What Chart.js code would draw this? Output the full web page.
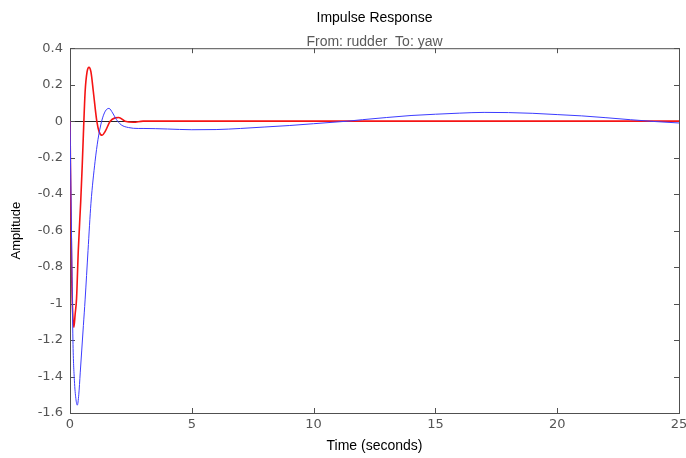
<!DOCTYPE html>
<html>
<head>
<meta charset="utf-8">
<script src="https://cdn.jsdelivr.net/npm/chart.js@4.4.0/dist/chart.umd.min.js"></script>
<style>
  body { margin: 0; background: #fff; }
  #wrap { width: 686px; height: 458px; }
</style>
</head>
<body>
<div id="wrap"><canvas id="impulseChart" width="686" height="458"></canvas></div>
<script>
// red trace: fast response (time in s, amplitude)
const redTime = [0, 0.03, 0.07, 0.11, 0.16, 0.21, 0.27, 0.34, 0.44, 0.5, 0.55, 0.62, 0.7, 0.78, 0.86, 0.96, 1.1, 1.2, 1.32, 1.45, 1.65, 1.85, 2.0, 2.26, 2.6, 3.0, 25];
const redAmp = [0, -0.4, -0.85, -1.05, -1.13, -1.06, -0.97, -0.71, -0.44, -0.25, -0.07, 0.16, 0.27, 0.295, 0.27, 0.16, 0, -0.06, -0.077, -0.055, 0, 0.018, 0.02, 0, -0.006, 0, 0];

// blue trace: slow response
const blueTime = [0, 0.04, 0.08, 0.12, 0.18, 0.24, 0.3, 0.36, 0.42, 0.48, 0.55, 0.62, 0.74, 0.86, 1.03, 1.15, 1.3, 1.45, 1.6, 1.75, 1.9, 2.1, 2.4, 2.8, 3, 4, 5, 6, 7, 8, 9, 10, 11, 11.4, 12, 13, 14, 15, 16, 17, 18, 19, 20, 21, 22, 23, 24, 25];
const blueAmp = [0, -0.4, -0.8, -1.2, -1.42, -1.52, -1.557, -1.5, -1.38, -1.26, -1.12, -0.98, -0.71, -0.45, -0.22, -0.1, 0, 0.055, 0.07, 0.045, 0.01, -0.02, -0.035, -0.04, -0.04, -0.043, -0.047, -0.046, -0.04, -0.032, -0.024, -0.014, -0.004, 0, 0.008, 0.02, 0.031, 0.038, 0.044, 0.048, 0.047, 0.043, 0.036, 0.029, 0.019, 0.008, -0.002, -0.01];

const xTicks = [0, 5, 10, 15, 20, 25];
const yTicks = [0.4, 0.2, 0, -0.2, -0.4, -0.6, -0.8, -1, -1.2, -1.4, -1.6];

const toPoints = (xs, ys) => xs.map((x, i) => ({ x, y: ys[i] }));
const fmt = v => String(Math.round(v * 10) / 10);

// box around the plot with inward tick marks, like the MATLAB axes
const boxPlugin = {
  id: "box",
  beforeDatasetsDraw(chart) {
    const { ctx, chartArea: a, scales } = chart;
    ctx.save();
    ctx.strokeStyle = "#505050";
    ctx.lineWidth = 1;
    ctx.strokeRect(a.left + 0.5, a.top + 0.5, a.right - a.left, a.bottom - a.top);
    ctx.beginPath();
    scales.x.ticks.forEach(t => {
      const px = Math.round(scales.x.getPixelForValue(t.value)) + 0.5;
      ctx.moveTo(px, a.bottom); ctx.lineTo(px, a.bottom - 5);
      ctx.moveTo(px, a.top); ctx.lineTo(px, a.top + 5);
    });
    scales.y.ticks.forEach(t => {
      const py = Math.round(scales.y.getPixelForValue(t.value)) + 0.5;
      ctx.moveTo(a.left, py); ctx.lineTo(a.left + 5, py);
      ctx.moveTo(a.right, py); ctx.lineTo(a.right - 5, py);
    });
    ctx.stroke();
    ctx.restore();
  }
};

const ctx = document.getElementById("impulseChart").getContext("2d");
new Chart(ctx, {
  type: "line",
  data: {
    datasets: [
      {
        label: "blue",
        data: toPoints(blueTime, blueAmp),
        borderColor: "rgb(60,60,255)",
        borderWidth: 1,
        pointRadius: 0,
        cubicInterpolationMode: "monotone"
      },
      {
        label: "red",
        data: toPoints(redTime, redAmp),
        borderColor: "rgb(245,20,20)",
        borderWidth: 1.6,
        pointRadius: 0,
        cubicInterpolationMode: "monotone"
      }
    ]
  },
  options: {
    responsive: false,
    animation: false,
    devicePixelRatio: 1,
    layout: { padding: { left: 0, right: 7, top: 0, bottom: 0 } },
    plugins: {
      legend: { display: false },
      tooltip: { enabled: false },
      title: {
        display: true,
        fullSize: false,
        text: "Impulse Response",
        color: "#000",
        font: { family: "Liberation Sans", size: 14, weight: "normal", lineHeight: 0.9 },
        padding: { top: 12, bottom: 0 }
      },
      subtitle: {
        display: true,
        fullSize: false,
        text: "From: rudder  To: yaw",
        color: "#5a5a5a",
        font: { family: "Liberation Sans", size: 14, lineHeight: 0.9 },
        padding: { top: 11, bottom: 0 }
      }
    },
    scales: {
      x: {
        type: "linear",
        min: 0,
        max: 25,
        afterBuildTicks: s => { s.ticks = xTicks.map(v => ({ value: v })); },
        // let the last label run into the page margin as in the original
        afterFit: s => { s.height = 45; s.paddingRight = 0; },
        ticks: {
          color: "#555",
          font: { family: "DejaVu Sans", size: 13 },
          padding: 4,
          maxRotation: 0,
          callback: v => fmt(v)
        },
        grid: { drawOnChartArea: false, drawTicks: false },
        border: { display: false },
        title: {
          display: true,
          text: "Time (seconds)",
          color: "#000",
          font: { family: "Liberation Sans", size: 14 },
          padding: { top: 0, bottom: 3.6 }
        }
      },
      y: {
        min: -1.6,
        max: 0.4,
        afterBuildTicks: s => { s.ticks = yTicks.map(v => ({ value: v })); },
        afterFit: s => { s.width = 70; },
        ticks: {
          color: "#555",
          font: { family: "DejaVu Sans", size: 13 },
          padding: 7,
          callback: v => fmt(v)
        },
        grid: {
          drawTicks: false,
          color: c => (c.tick && Math.abs(c.tick.value) < 1e-9 ? "rgba(0,0,0,0.85)" : "rgba(0,0,0,0)"),
          lineWidth: 1
        },
        border: { display: false },
        title: {
          display: true,
          text: "Amplitude",
          color: "#000",
          font: { family: "Liberation Sans", size: 13 },
          padding: { top: 9, bottom: 0 }
        }
      }
    }
  },
  plugins: [boxPlugin]
});
</script>
</body>
</html>
